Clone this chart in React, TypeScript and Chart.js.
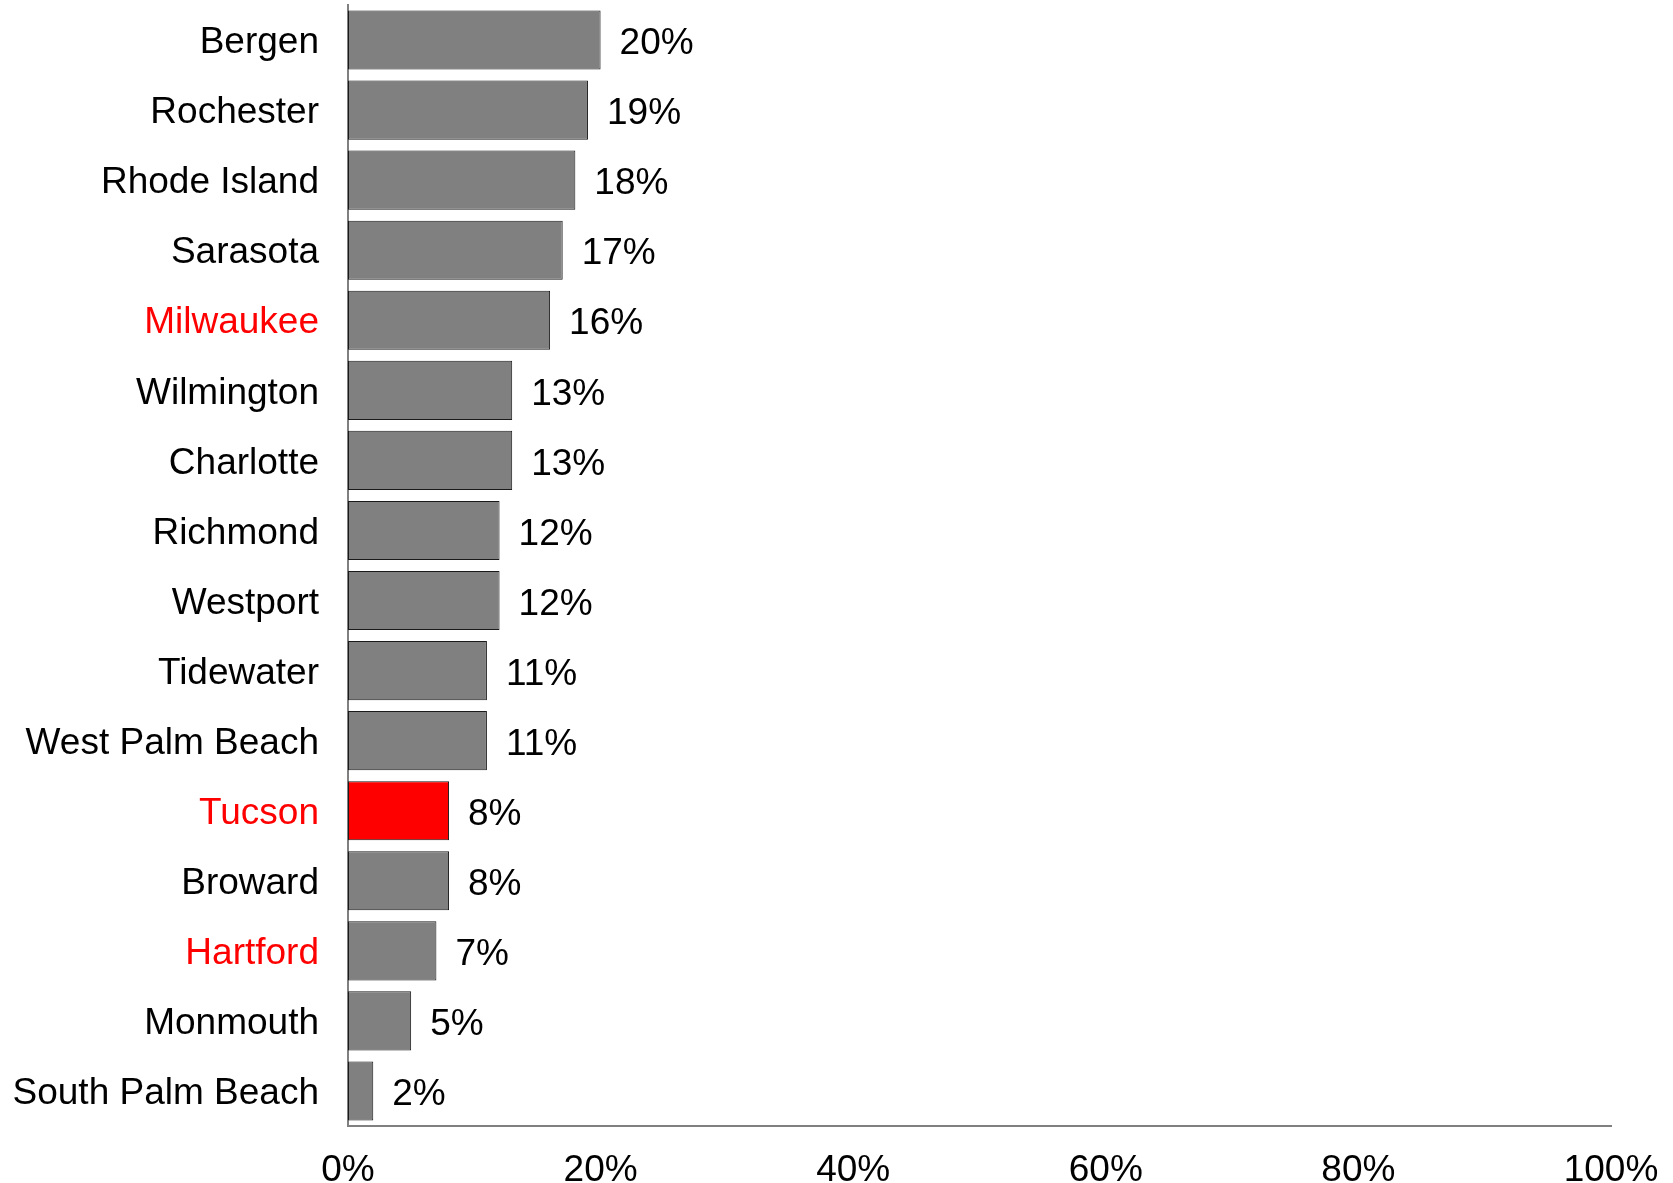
import React, { useEffect, useRef } from "react";
import { Chart, registerables } from "chart.js";

Chart.register(...registerables);

const categories = [
  "Bergen",
  "Rochester",
  "Rhode Island",
  "Sarasota",
  "Milwaukee",
  "Wilmington",
  "Charlotte",
  "Richmond",
  "Westport",
  "Tidewater",
  "West Palm Beach",
  "Tucson",
  "Broward",
  "Hartford",
  "Monmouth",
  "South Palm Beach",
];
const values = [20, 19, 18, 17, 16, 13, 13, 12, 12, 11, 11, 8, 8, 7, 5, 2];
const redLabels = ["Milwaukee", "Tucson", "Hartford"];
const redBars = ["Tucson"];
const xTicks = [0, 20, 40, 60, 80, 100];

const FONT = '"Liberation Sans", Arial, Helvetica, sans-serif';
const FONT_SIZE = 37;

export default function App() {
  const ref = useRef<HTMLCanvasElement | null>(null);

  useEffect(() => {
    if (!ref.current) return;
    const valueLabels = {
      id: "valueLabels",
      afterDatasetsDraw(chart: any) {
        const ctx = chart.ctx;
        const meta = chart.getDatasetMeta(0);
        ctx.save();
        ctx.font = `${FONT_SIZE}px ${FONT}`;
        ctx.fillStyle = "#000";
        ctx.textAlign = "left";
        ctx.textBaseline = "middle";
        meta.data.forEach((bar: any, i: number) => {
          ctx.fillText(`${values[i]}%`, bar.x + 19, bar.y + 4);
        });
        ctx.restore();
      },
    };
    const chart = new Chart(ref.current, {
      type: "bar",
      data: {
        labels: categories,
        datasets: [
          {
            data: values,
            backgroundColor: categories.map((c) => (redBars.includes(c) ? "#FF0000" : "#808080")),
            borderColor: "#1a1a1a",
            borderWidth: 1,
            borderSkipped: false,
            barPercentage: 0.843,
            categoryPercentage: 1,
          },
        ],
      },
      options: {
        indexAxis: "y",
        animation: false,
        responsive: false,
        maintainAspectRatio: false,
        layout: { padding: { top: 5, right: 62, left: 0, bottom: 0 } },
        plugins: {
          legend: { display: false },
          tooltip: { enabled: false },
          title: { display: false },
        },
        scales: {
          x: {
            type: "linear",
            min: 0,
            max: 100,
            afterBuildTicks: (scale: any) => {
              scale.ticks = xTicks.map((v) => ({ value: v }));
            },
            afterFit: (scale: any) => {
              scale.height = 57;
              scale.paddingLeft = 0;
              scale.paddingRight = 0;
            },
            grid: { display: false, drawTicks: false },
            border: { display: true, color: "#808080", width: 2 },
            ticks: {
              padding: 23,
              color: "#000",
              font: { family: FONT, size: FONT_SIZE },
              maxRotation: 0,
              autoSkip: false,
              callback: (v: any) => `${v}%`,
            },
          },
          y: {
            afterFit: (scale: any) => {
              scale.width = 348;
              scale.paddingTop = 0;
              scale.paddingBottom = 0;
            },
            grid: { display: false, drawTicks: false },
            border: { display: true, color: "#808080", width: 2 },
            ticks: {
              padding: 29,
              labelOffset: 3,
              autoSkip: false,
              font: { family: FONT, size: FONT_SIZE },
              color: (ctx: any) =>
                redLabels.includes(categories[ctx.index]) ? "#FF0000" : "#000",
            },
          },
        },
      },
      plugins: [valueLabels],
    } as any);
    return () => chart.destroy();
  }, []);

  return (
    <div style={{ position: "absolute", left: 0, top: 0, width: 1673, height: 1183, background: "#fff" }}>
      <canvas ref={ref} width={1673} height={1183} style={{ display: "block", width: 1673, height: 1183 }} />
    </div>
  );
}
